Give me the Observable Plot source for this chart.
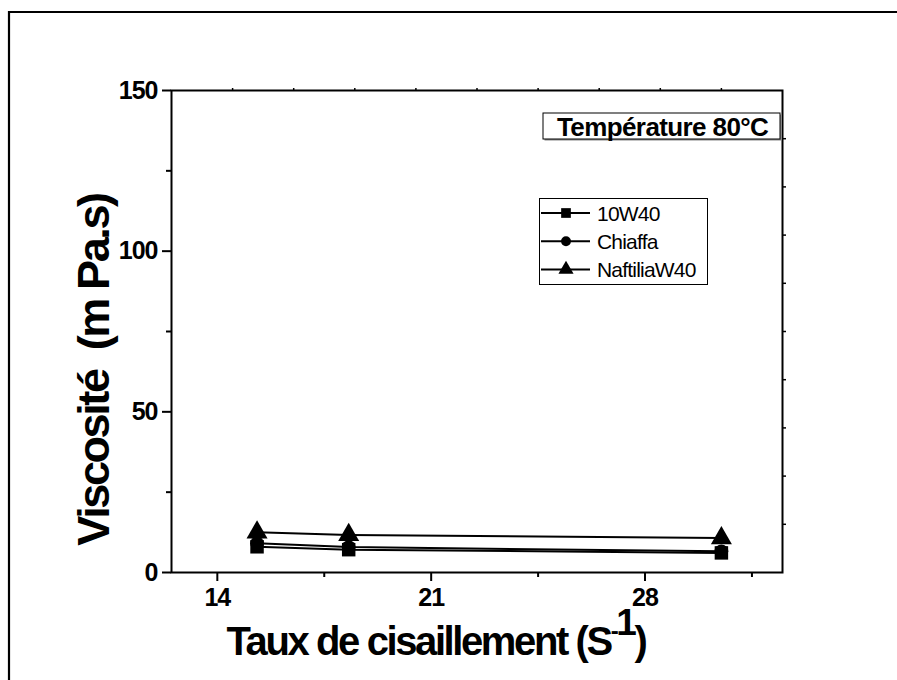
<!DOCTYPE html>
<html>
<head>
<meta charset="utf-8">
<script src="https://cdn.jsdelivr.net/npm/d3@7"></script>
<script src="https://cdn.jsdelivr.net/npm/@observablehq/plot@0.6"></script>
<style>
  html, body { margin: 0; padding: 0; background: #fff; overflow: hidden; }
  #chart svg { display: block; }
</style>
</head>
<body>
<div id="chart"></div>
<script>
// Shear rate (s^-1) and viscosity (mPa.s) of three engine oils at 80 °C
const shearRates = [15.3, 18.3, 30.5];
const visc10W40 = [8.0, 7.1, 6.1];
const viscChiaffa = [9.1, 7.9, 6.6];
const viscNaftilia = [12.5, 11.7, 10.7];

const seriesNames = ["10W40", "Chiaffa", "NaftiliaW40"];
const seriesSymbols = ["square", "circle", "triangle"];
const seriesValues = [visc10W40, viscChiaffa, viscNaftilia];

const xTicks = [14, 21, 28];
const xMinorTicks = [17.5, 24.5, 31.5];
const yTicks = [0, 50, 100, 150];
const yMinorTicks = [25, 75, 125];
const topTicks = [14.5, 16.5, 18.5, 20.5, 22.5, 24.5, 26.5, 28.5, 30.5];
const rightTicks = [15, 30, 45, 60, 75, 90, 105, 120, 135];

const xLabel = "Taux de cisaillement (S";
const yLabel = "Viscosité  (m Pa.s)";
const boxTitle = "Température 80°C";

const rows = seriesNames.flatMap((name, i) =>
  shearRates.map((x, j) => ({series: name, x, y: seriesValues[i][j]}))
);

// marker radius per symbol, so the three shapes read at a similar size
const markerR = {square: 7.6, circle: 6.9, triangle: 7.8};

const plot = Plot.plot({
  width: 897,
  height: 680,
  marginLeft: 171,
  marginRight: 115,
  marginTop: 90,
  marginBottom: 108,
  style: {
    fontFamily: "'Liberation Sans', Arial, sans-serif",
    fontSize: "25px",
    fontWeight: "bold",
    letterSpacing: "-1px",
    background: "#fff",
    color: "#000"
  },
  x: {domain: [12.5, 32.5], label: null},
  y: {domain: [0, 150], label: null},
  marks: [
    Plot.frame({stroke: "#000", strokeWidth: 2}),
    Plot.axisX(xTicks, {anchor: "bottom", tickSize: 9, tickPadding: 7, strokeWidth: 2, fontSize: 25, fontWeight: "bold"}),
    Plot.axisX(xMinorTicks, {anchor: "bottom", tickSize: 5, strokeWidth: 2, tickFormat: () => ""}),
    Plot.axisY(yTicks, {anchor: "left", tickSize: 9, tickPadding: 5, strokeWidth: 2, fontSize: 25, fontWeight: "bold"}),
    Plot.axisY(yMinorTicks, {anchor: "left", tickSize: 5, strokeWidth: 2, tickFormat: () => ""}),
    Plot.axisX(topTicks, {anchor: "top", tickSize: 3, strokeWidth: 1.5, tickFormat: () => ""}),
    Plot.axisY(rightTicks, {anchor: "right", tickSize: 3, strokeWidth: 1.5, tickFormat: () => ""}),
    Plot.line(rows, {x: "x", y: "y", z: "series", stroke: "#000", strokeWidth: 2}),
    ...seriesNames.map((name, i) =>
      Plot.dot(rows.filter(d => d.series === name), {
        x: "x", y: "y",
        symbol: seriesSymbols[i],
        r: markerR[seriesSymbols[i]],
        fill: "#000",
        stroke: "none"
      })
    )
  ]
});

const svg = d3.select(plot);

// outer border of the figure: left and top edges
const border = svg.insert("g", ":first-child").attr("stroke", "#000").attr("stroke-width", 2.2);
border.append("line").attr("x1", 9).attr("x2", 9).attr("y1", 11).attr("y2", 680);
border.append("line").attr("x1", 8).attr("x2", 897).attr("y1", 12).attr("y2", 12);

// axis titles
const xt = svg.append("text")
  .attr("x", 436).attr("y", 655)
  .attr("text-anchor", "middle")
  .style("font-size", "40px").style("font-weight", "bold").style("letter-spacing", "-2.4px");
xt.append("tspan").text(xLabel);
xt.append("tspan").attr("dy", -16).style("font-size", "24px").text("-");
xt.append("tspan").attr("dy", -4).style("font-size", "37px").text("1");
xt.append("tspan").attr("dy", 20).text(")");

svg.append("text")
  .attr("transform", "translate(109,370) rotate(-90)")
  .attr("text-anchor", "middle")
  .style("font-size", "45px").style("font-weight", "bold").style("letter-spacing", "-2.4px")
  .text(yLabel);

// temperature label box with a soft drop shadow
svg.append("rect").attr("x", 544.5).attr("y", 114.5).attr("width", 237).attr("height", 26)
  .attr("fill", "#888");
svg.append("rect").attr("x", 543).attr("y", 113).attr("width", 237).attr("height", 26)
  .attr("fill", "#fff").attr("stroke", "#000").attr("stroke-width", 1);
svg.append("text").attr("x", 557).attr("y", 136)
  .attr("text-anchor", "start")
  .style("font-size", "26px").style("font-weight", "bold").style("letter-spacing", "-0.6px")
  .text(boxTitle);

// legend
const lg = svg.append("g");
lg.append("rect").attr("x", 539.5).attr("y", 198.5).attr("width", 168).attr("height", 86)
  .attr("fill", "#fff").attr("stroke", "#000").attr("stroke-width", 1);
const legendSymbols = {square: d3.symbolSquare, circle: d3.symbolCircle, triangle: d3.symbolTriangle};
seriesNames.forEach((name, i) => {
  const cy = 213 + i * 28.2;
  lg.append("line").attr("x1", 541).attr("x2", 590).attr("y1", cy).attr("y2", cy)
    .attr("stroke", "#000").attr("stroke-width", 2);
  const r = markerR[seriesSymbols[i]] * 0.72;
  lg.append("path")
    .attr("transform", `translate(566,${cy})`)
    .attr("d", d3.symbol(legendSymbols[seriesSymbols[i]], Math.PI * r * r)())
    .attr("fill", "#000");
  lg.append("text").attr("x", 597).attr("y", cy + 7.5)
    .attr("text-anchor", "start")
    .style("font-size", "21px").style("font-weight", "normal").style("letter-spacing", "-0.8px")
    .text(name);
});

document.getElementById("chart").appendChild(plot);
</script>
</body>
</html>
